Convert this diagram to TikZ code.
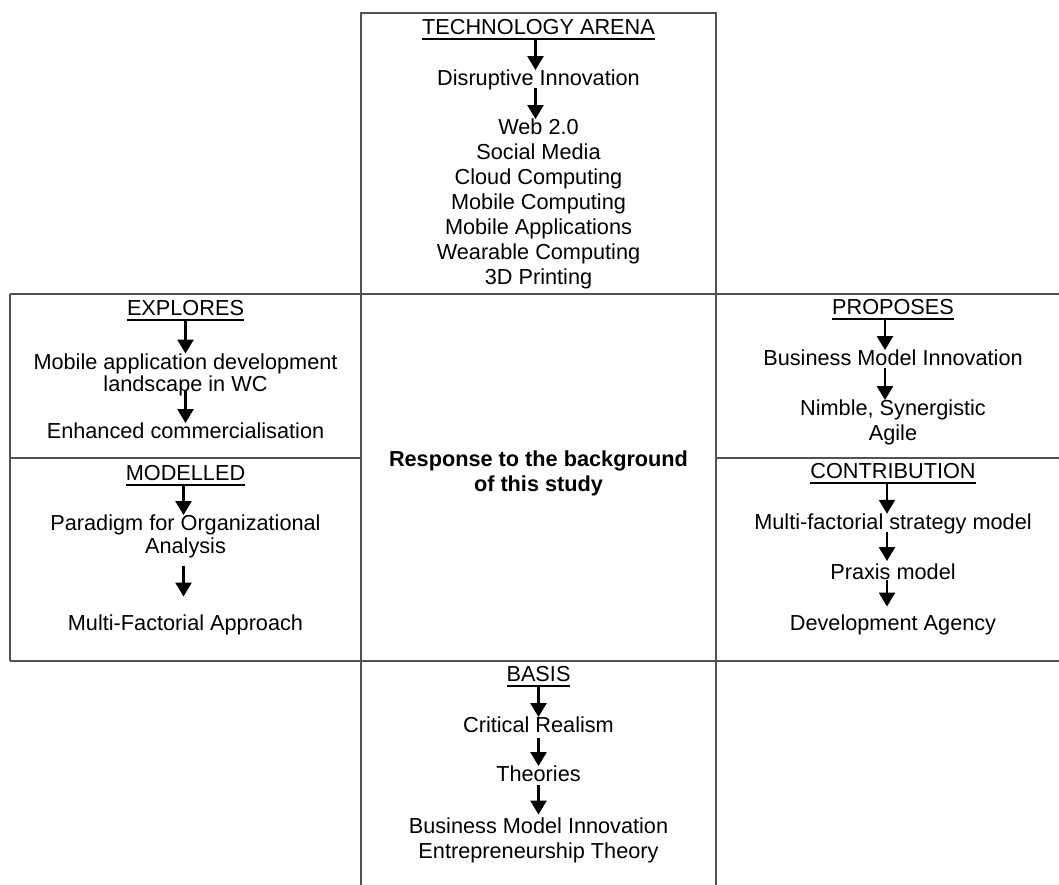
\documentclass[tikz,border=0pt]{standalone}
\usepackage{fontspec}
\setmainfont{Liberation Sans}
\usetikzlibrary{arrows.meta}
% heading text with a solid rule underneath
\newcommand{\headul}[1]{\setbox0=\hbox{#1}\rlap{\rule[-5pt]{\wd0}{1.8pt}}\box0}
\begin{document}
\begin{tikzpicture}[x=1pt,y=-1pt,
  txt/.style={inner sep=0pt, text height=15.5pt, text depth=0pt,
              font=\fontsize{21.7}{25}\selectfont},
  frame/.style={line width=1.9pt, draw=black!68},
  arr/.style={-{Triangle[width=16pt,length=14pt]}, line width=2.4pt, shorten <=2pt},
  fromhead/.style={arr, shorten <=5pt},
  midcol/.style={transform canvas={xshift=-3pt}},
  rightcol/.style={transform canvas={xshift=-6pt}}]
\useasboundingbox (0,0) rectangle (1059,885);

% grid of boxes
\draw[frame] (361,885) -- (361,13) -- (716,13) -- (716,885);
\draw[frame] (10,294) -- (1059,294);
\draw[frame] (10,661) -- (1059,661);
\draw[frame] (10,294) -- (10,661);
\draw[frame] (10,458) -- (361,458);
\draw[frame] (716,458) -- (1059,458);

% technology arena
\node[txt] (t0) at (538.5,27) {\headul{TECHNOLOGY ARENA}};
\node[txt] (t1) at (538.5,78) {Disruptive Innovation};
\node[txt] (t2) at (538.5,127) {Web 2.0};
\node[txt] (t3) at (538.5,152) {Social Media};
\node[txt] (t4) at (538.5,177) {Cloud Computing};
\node[txt] (t5) at (538.5,202) {Mobile Computing};
\node[txt] (t6) at (538.5,227) {Mobile Applications};
\node[txt] (t7) at (538.5,252) {Wearable Computing};
\node[txt] (t8) at (538.5,277) {3D Printing};
\draw[fromhead, midcol] (t0.south) -- (t1.north);
\draw[arr, midcol] (t1.south) -- (t2.north);

% centre
\node[txt, font=\fontsize{21.7}{25}\selectfont\bfseries] (r1) at (538.5,459) {Response to the background};
\node[txt, font=\fontsize{21.7}{25}\selectfont\bfseries] (r2) at (538.5,484) {of this study};

% explores
\node[txt] (e0) at (185.5,308) {\headul{EXPLORES}};
\node[txt] (e1) at (185.5,361.5) {Mobile application development};
\node[txt] (e2) at (185.5,383.5) {landscape in WC};
\node[txt] (e3) at (185.5,431) {Enhanced commercialisation};
\draw[fromhead] (e0.south) -- (e1.north);
\draw[arr, shorten <=0pt] (e2.south) -- (e3.north);

% modelled
\node[txt] (m0) at (185.5,473) {\headul{MODELLED}};
\node[txt] (m1) at (185.5,523) {Paradigm for Organizational};
\node[txt] (m2) at (185.5,546) {Analysis};
\node[txt] (m3) at (185.5,622.5) {Multi-Factorial Approach};
\draw[fromhead, transform canvas={xshift=-2pt}] (m0.south) -- (m1.north);
\draw[arr, shorten <=12pt, shorten >=18pt, transform canvas={xshift=-2pt}] (m2.south) -- (m3.north);

% proposes
\node[txt] (p0) at (893,307) {\headul{PROPOSES}};
\node[txt] (p1) at (893,358) {Business Model Innovation};
\node[txt] (p2) at (893,408) {Nimble, Synergistic};
\node[txt] (p3) at (893,433) {Agile};
\draw[fromhead, transform canvas={xshift=-8pt}] (p0.south) -- (p1.north);
\draw[arr, transform canvas={xshift=-8pt}] (p1.south) -- (p2.north);

% contribution
\node[txt] (c0) at (893,471) {\headul{CONTRIBUTION}};
\node[txt] (c1) at (893,521.7) {Multi-factorial strategy model};
\node[txt] (c2) at (893,572) {Praxis model};
\node[txt] (c3) at (893,622.5) {Development Agency};
\draw[fromhead, rightcol] (c0.south) -- (c1.north);
\draw[arr, rightcol, shorten >=3pt] (c1.south) -- (c2.north);
\draw[arr, rightcol, shorten <=0pt, shorten >=8pt] (c2.south) -- (c3.north);

% basis
\node[txt] (b0) at (538.5,674) {\headul{BASIS}};
\node[txt] (b1) at (538.5,725) {Critical Realism};
\node[txt] (b2) at (538.5,774) {Theories};
\node[txt] (b3) at (538.5,825.5) {Business Model Innovation};
\node[txt] (b4) at (538.5,850.5) {Entrepreneurship Theory};
\draw[fromhead] (b0.south) -- (b1.north);
\draw[arr, shorten <=5pt] (b1.south) -- (b2.north);
\draw[arr, shorten <=3pt, shorten >=3pt] (b2.south) -- (b3.north);
\end{tikzpicture}
\end{document}
